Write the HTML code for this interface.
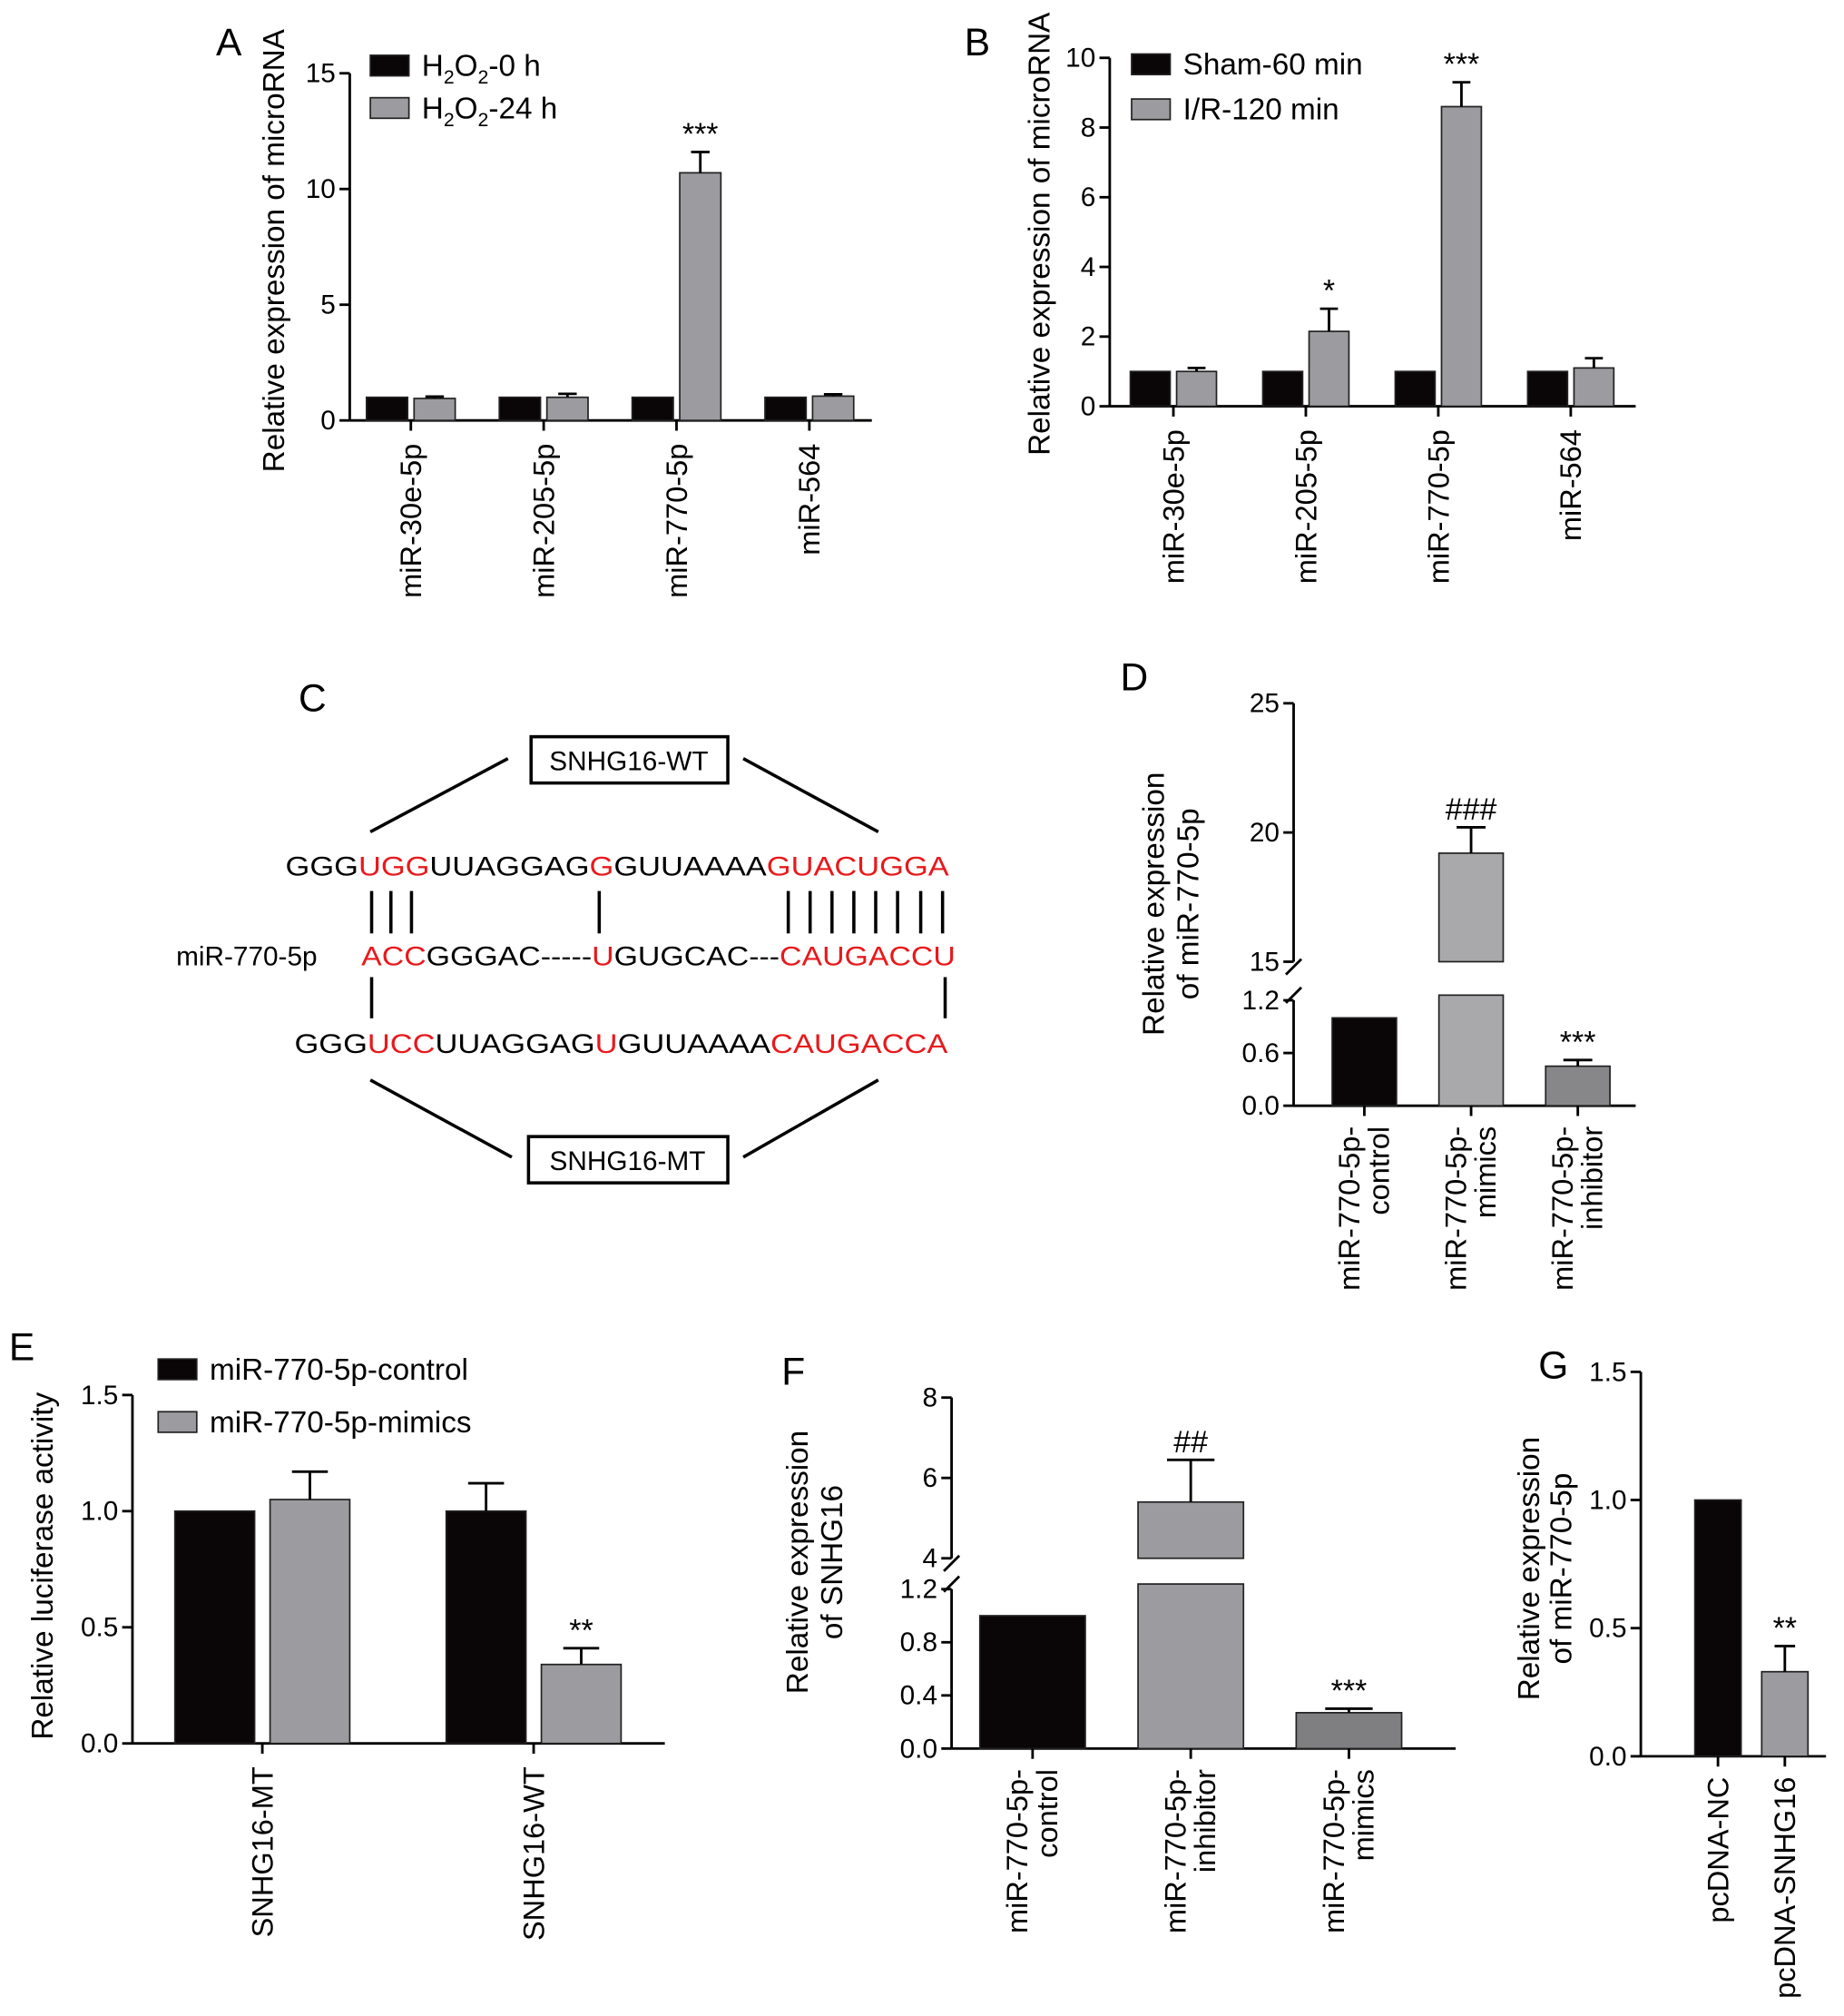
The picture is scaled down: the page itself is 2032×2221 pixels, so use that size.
<!DOCTYPE html>
<html><head><meta charset="utf-8"><style>
html,body{margin:0;padding:0;background:#fff}
svg{display:block;font-family:"Liberation Sans",Arial,sans-serif}
</style></head><body>
<svg id="fig" width="2032" height="2221" viewBox="0 0 1434 1568" preserveAspectRatio="none" xmlns="http://www.w3.org/2000/svg">
<g font-size="21">
<text x="243" y="553" font-size="30" text-anchor="middle">C</text>
<rect x="413" y="573" width="153" height="36" fill="none" stroke="#000" stroke-width="2.5"/>
<text x="489" y="599" text-anchor="middle">SNHG16-WT</text>
<rect x="411" y="884" width="155" height="36" fill="none" stroke="#000" stroke-width="2.5"/>
<text x="488" y="910" text-anchor="middle">SNHG16-MT</text>
<g stroke="#000" stroke-width="2.5">
<line x1="395" y1="590" x2="288" y2="647"/><line x1="578" y1="590" x2="683" y2="647"/>
<line x1="288" y1="840" x2="398" y2="900"/><line x1="683" y1="840" x2="578" y2="900"/>
<line x1="289" y1="693" x2="289" y2="726"/><line x1="304" y1="693" x2="304" y2="726"/><line x1="320" y1="693" x2="320" y2="726"/>
<line x1="466" y1="693" x2="466" y2="726"/>
<line x1="613" y1="693" x2="613" y2="726"/><line x1="630" y1="693" x2="630" y2="726"/><line x1="647" y1="693" x2="647" y2="726"/><line x1="664" y1="693" x2="664" y2="726"/><line x1="681" y1="693" x2="681" y2="726"/><line x1="698" y1="693" x2="698" y2="726"/><line x1="716" y1="693" x2="716" y2="726"/><line x1="733" y1="693" x2="733" y2="726"/>
<line x1="289" y1="760" x2="289" y2="792"/><line x1="735" y1="760" x2="735" y2="792"/>
</g>
<text x="222" y="681" textLength="516" lengthAdjust="spacingAndGlyphs">GGG<tspan fill="#e8191c">UGG</tspan>UUAGGAG<tspan fill="#e8191c">G</tspan>GUUAAAA<tspan fill="#e8191c">GUACUGGA</tspan></text>
<text x="137" y="751">miR-770-5p</text>
<text x="281" y="751" textLength="462" lengthAdjust="spacingAndGlyphs"><tspan fill="#e8191c">ACC</tspan>GGGAC-----<tspan fill="#e8191c">U</tspan>GUGCAC---<tspan fill="#e8191c">CAUGACCU</tspan></text>
<text x="229" y="819" textLength="508" lengthAdjust="spacingAndGlyphs">GGG<tspan fill="#e8191c">UCC</tspan>UUAGGAG<tspan fill="#e8191c">U</tspan>GUUAAAA<tspan fill="#e8191c">CAUGACCA</tspan></text>
</g>
</svg>
<script>
const NS='http://www.w3.org/2000/svg';
const fig=document.getElementById('fig');
function mk(tag,attrs,parent){const e=document.createElementNS(NS,tag);for(const k in attrs)e.setAttribute(k,attrs[k]);(parent||fig).appendChild(e);return e;}

// Panel A data
const aCats=['miR-30e-5p','miR-205-5p','miR-770-5p','miR-564'];
const aCtrl=[1,1,1,1];
const aTreat=[0.95,1.0,10.7,1.05];
const aErr=[0.08,0.15,0.9,0.08];
const aSig=['','','***',''];
const aTicks=[0,5,10,15];
// Panel B data
const bCats=['miR-30e-5p','miR-205-5p','miR-770-5p','miR-564'];
const bCtrl=[1,1,1,1];
const bTreat=[1.0,2.15,8.6,1.1];
const bErr=[0.1,0.65,0.7,0.28];
const bSig=['','*','***',''];
const bTicks=[0,2,4,6,8,10];
// Panel D data
const dCats=[['miR-770-5p-','control'],['miR-770-5p-','mimics'],['miR-770-5p-','inhibitor']];
const dVals=[1.0,19.2,0.45];
const dErr=[0,1.0,0.07];
const dSig=['','###','***'];
const dTicksLow=[0.0,0.6,1.2];
const dTicksHigh=[15,20,25];
// Panel E data
const eCats=['SNHG16-MT','SNHG16-WT'];
const eCtrl=[1.0,1.0];
const eMimic=[1.05,0.34];
const eCtrlErr=[0,0.12];
const eMimicErr=[0.12,0.07];
const eSig=['','**'];
const eTicks=[0.0,0.5,1.0,1.5];
// Panel F data
const fCats=[['miR-770-5p-','control'],['miR-770-5p-','inhibitor'],['miR-770-5p-','mimics']];
const fVals=[1.0,5.4,0.27];
const fErr=[0,1.05,0.03];
const fSig=['','##','***'];
const fTicksLow=[0.0,0.4,0.8,1.2];
const fTicksHigh=[4,6,8];
// Panel G data
const gCats=['pcDNA-NC','pcDNA-SNHG16'];
const gVals=[1.0,0.33];
const gErr=[0,0.1];
const gSig=['','**'];
const gTicks=[0.0,0.5,1.0,1.5];

const TICK=21, XL=23, TITLE=23.5, LEG=23.5, LET=30;
function fmt(v,d){return d?v.toFixed(d):String(v);}
function yAxis(g,x,yTop,yBot,ticks,yf,dec){
  const ax=mk('line',{x1:x,y1:yTop,x2:x,y2:yBot,stroke:'#000','stroke-width':2},g);
  
  
  ticks.forEach(t=>{const y=yf(t);
    const tk=mk('line',{x1:x-8,y1:y,x2:x,y2:y,stroke:'#000','stroke-width':2},g);
    
    
    const tl=mk('text',{x:x-11,y:y+7,'text-anchor':'end','font-size':TICK},g);
    tl.textContent=fmt(t,dec);
    
    
  });
}
function xAxis(g,x1,x2,y){
  const ax=mk('line',{x1:x1,y1:y,x2:x2,y2:y,stroke:'#000','stroke-width':2},g);
  
  
}
function bar(g,x,w,yTop,yBot,fill,name){
  const r=mk('rect',{x:x,y:yTop,width:w,height:Math.max(0,yBot-yTop),fill:fill,stroke:'#222','stroke-width':1.2},g);
  
  
  return r;
}
function err(g,cx,yTop,yErr,w){
  if(Math.abs(yErr-yTop)<0.5)return;
  const l=mk('path',{d:`M${cx},${yTop}V${yErr}M${cx-w/2},${yErr}H${cx+w/2}`,stroke:'#000','stroke-width':2,fill:'none'},g);
  
  
}
function txt(g,x,y,s,size,name,anchor,rot){
  const t=mk('text',{x:x,y:y,'font-size':size,'text-anchor':anchor||'middle'},g);
  if(rot)t.setAttribute('transform',`rotate(-90 ${x} ${y})`);
  t.textContent=s;
  
  
  return t;
}
function xLabel(g,x,y,lines){
  if(typeof lines==='string'){txt(g,x+8,y,lines,XL,'x-tick-label','end',true);return;}
  txt(g,x-4,y,lines[0],XL,'x-tick-label','end',true);
  txt(g,x+19,y,lines[1],XL,'x-tick-label','end',true);
}
function legend(g,x,y,fill,label,sub){
  const r=mk('rect',{x:x,y:y,width:30,height:16,fill:fill,stroke:'#222','stroke-width':1.2},g);
  
  
  const t=mk('text',{x:x+40,y:y+16,'font-size':LEG},g);
  
  
  if(sub){t.innerHTML=`H<tspan font-size="15" dy="6">2</tspan><tspan dy="-6">O</tspan><tspan font-size="15" dy="6">2</tspan><tspan dy="-6">${label}</tspan>`;}
  else t.textContent=label;
}
function grouped(opt){
  const g=mk('g',{});
  
  
  const yf=v=>opt.y0-v*(opt.y0-opt.yTop)/opt.vmax;
  yAxis(g,opt.ax,opt.yTop,opt.y0,opt.ticks,yf,opt.dec);
  xAxis(g,opt.ax,opt.axEnd,opt.y0);
  opt.cats.forEach((c,i)=>{
    const gx=opt.gx+i*opt.step;
    bar(g,gx,opt.bw,yf(opt.ctrl[i]),opt.y0,'#0a0506','bar-control-'+i);
    err(g,gx+opt.bw/2,yf(opt.ctrl[i]),yf(opt.ctrl[i]+(opt.ctrlErr?opt.ctrlErr[i]:0)),opt.bw*0.45);
    const x2=gx+opt.bw+opt.gap;
    bar(g,x2,opt.bw,yf(opt.treat[i]),opt.y0,'#9b9ba0','bar-treated-'+i);
    err(g,x2+opt.bw/2,yf(opt.treat[i]),yf(opt.treat[i]+opt.err[i]),opt.bw*0.45);
    if(opt.sig[i])txt(g,x2+opt.bw/2,yf(opt.treat[i]+opt.err[i])-6,opt.sig[i],24,'significance-mark');
    const cx=gx+opt.bw+opt.gap/2;
    const tk=mk('line',{x1:cx,y1:opt.y0,x2:cx,y2:opt.y0+8,stroke:'#000','stroke-width':2},g);
    
    
    xLabel(g,cx,opt.y0+18,c);
  });
  return g;
}
// Panel A
let gA=grouped({name:'panel-a-chart',ax:272,axEnd:678,yTop:57,y0:327,vmax:15,ticks:aTicks,cats:aCats,ctrl:aCtrl,treat:aTreat,err:aErr,sig:aSig,gx:285,step:103.3,bw:32,gap:5});
txt(gA,178,43,'A',LET,'panel-label-a');
txt(gA,221,195,'Relative expression of microRNA',TITLE,'y-axis-title','middle',true);
legend(gA,288,43,'#0a0506','-0 h',true);
legend(gA,288,76,'#9b9ba0','-24 h',true);
// Panel B
let gB=grouped({name:'panel-b-chart',ax:863,axEnd:1272,yTop:45,y0:316,vmax:10,ticks:bTicks,cats:bCats,ctrl:bCtrl,treat:bTreat,err:bErr,sig:bSig,gx:879,step:103,bw:31,gap:5});
txt(gB,760,43,'B',LET,'panel-label-b');
txt(gB,816,182,'Relative expression of microRNA',TITLE,'y-axis-title','middle',true);
legend(gB,880,42,'#0a0506','Sham-60 min');
legend(gB,880,77,'#9b9ba0','I/R-120 min');
// Panel E
let gE=grouped({name:'panel-e-chart',ax:103,axEnd:517,yTop:1085,y0:1356,vmax:1.5,dec:1,ticks:eTicks,cats:eCats,ctrl:eCtrl,ctrlErr:eCtrlErr,treat:eMimic,err:eMimicErr,sig:eSig,gx:136,step:211,bw:62,gap:12});
txt(gE,17,1058,'E',LET,'panel-label-e');
txt(gE,41,1218,'Relative luciferase activity',TITLE,'y-axis-title','middle',true);
legend(gE,123,1057,'#0a0506','miR-770-5p-control');
legend(gE,123,1098,'#9b9ba0','miR-770-5p-mimics');

// broken-axis single charts
function broken(opt){
  const g=mk('g',{});
  
  
  const lowMax=opt.lowTicks[opt.lowTicks.length-1];
  const hMin=opt.highTicks[0],hMax=opt.highTicks[opt.highTicks.length-1];
  const yLow=v=>opt.y0-v*(opt.y0-opt.lowTop)/lowMax;
  const yHigh=v=>opt.highBot-(v-hMin)*(opt.highBot-opt.yTop)/(hMax-hMin);
  const yf=v=>v<=lowMax?yLow(v):yHigh(Math.max(v,hMin));
  yAxis(g,opt.ax,opt.lowTop,opt.y0,opt.lowTicks,yLow,1);
  yAxis(g,opt.ax,opt.yTop,opt.highBot,opt.highTicks,yHigh,0);
  const bk=mk('path',{d:`M${opt.ax-6},${opt.highBot+10}L${opt.ax+6},${opt.highBot-2}M${opt.ax-6},${opt.lowTop+2}L${opt.ax+6},${opt.lowTop-10}`,stroke:'#000','stroke-width':2,fill:'none'},g);
  
  
  xAxis(g,opt.ax,opt.axEnd,opt.y0);
  opt.cats.forEach((c,i)=>{
    const x=opt.gx+i*opt.step,v=opt.vals[i];
    if(v>lowMax){
      bar(g,x,opt.bw,yHigh(v),opt.highBot,opt.fills[i],'bar-'+i+'-upper');
      bar(g,x,opt.bw,opt.lowTop-4,opt.y0,opt.fills[i],'bar-'+i+'-lower');
    } else bar(g,x,opt.bw,yLow(v),opt.y0,opt.fills[i],'bar-'+i);
    const ye=yf(v+opt.err[i]);
    err(g,x+opt.bw/2,yf(v),ye,opt.bw*0.45);
    if(opt.sig[i])txt(g,x+opt.bw/2,ye-6,opt.sig[i],24,'significance-mark');
    const cx=x+opt.bw/2;
    const tk=mk('line',{x1:cx,y1:opt.y0,x2:cx,y2:opt.y0+8,stroke:'#000','stroke-width':2},g);
    
    
    xLabel(g,cx,opt.y0+16,c);
  });
  return g;
}
let gD=broken({name:'panel-d-chart',ax:1006,axEnd:1272,yTop:547,highBot:748,lowTop:778,y0:860,lowTicks:dTicksLow,highTicks:dTicksHigh,cats:dCats,vals:dVals,err:dErr,sig:dSig,gx:1036,step:83,bw:50,fills:['#0a0506','#a9a9ab','#87878a']});
txt(gD,882,537,'D',LET,'panel-label-d');
txt(gD,905,703,'Relative expression',TITLE,'y-axis-title','middle',true);
txt(gD,932,703,'of miR-770-5p',TITLE,'y-axis-title','middle',true);
let gF=broken({name:'panel-f-chart',ax:740,axEnd:1132,yTop:1087,highBot:1212,lowTop:1236,y0:1360,lowTicks:fTicksLow,highTicks:fTicksHigh,cats:fCats,vals:fVals,err:fErr,sig:fSig,gx:762,step:123,bw:82,fills:['#0a0506','#9b9ba0','#7f7f82']});
txt(gF,617,1077,'F',LET,'panel-label-f');
txt(gF,628,1215,'Relative expression',TITLE,'y-axis-title','middle',true);
txt(gF,655,1215,'of SNHG16',TITLE,'y-axis-title','middle',true);
// Panel G
(function(){
  const g=mk('g',{});
  
  
  const y0=1366,yTop=1067,yf=v=>y0-v*(y0-yTop)/1.5;
  yAxis(g,1276,yTop,y0,gTicks,yf,1);
  xAxis(g,1276,1420,y0);
  const xs=[1318,1370],fills=['#0a0506','#9b9ba0'];
  gCats.forEach((c,i)=>{
    bar(g,xs[i],36,yf(gVals[i]),y0,fills[i],'bar-'+i);
    err(g,xs[i]+18,yf(gVals[i]),yf(gVals[i]+gErr[i]),16);
    if(gSig[i])txt(g,xs[i]+18,yf(gVals[i]+gErr[i])-6,gSig[i],24,'significance-mark');
    const tk=mk('line',{x1:xs[i]+18,y1:y0,x2:xs[i]+18,y2:y0+8,stroke:'#000','stroke-width':2},g);
    
    
    xLabel(g,xs[i]+18,y0+16,c);
  });
  txt(g,1208,1072,'G',LET,'panel-label-g');
  txt(g,1197,1220,'Relative expression',TITLE,'y-axis-title','middle',true);
  txt(g,1222,1220,'of miR-770-5p',TITLE,'y-axis-title','middle',true);
})();
</script>
</body></html>
